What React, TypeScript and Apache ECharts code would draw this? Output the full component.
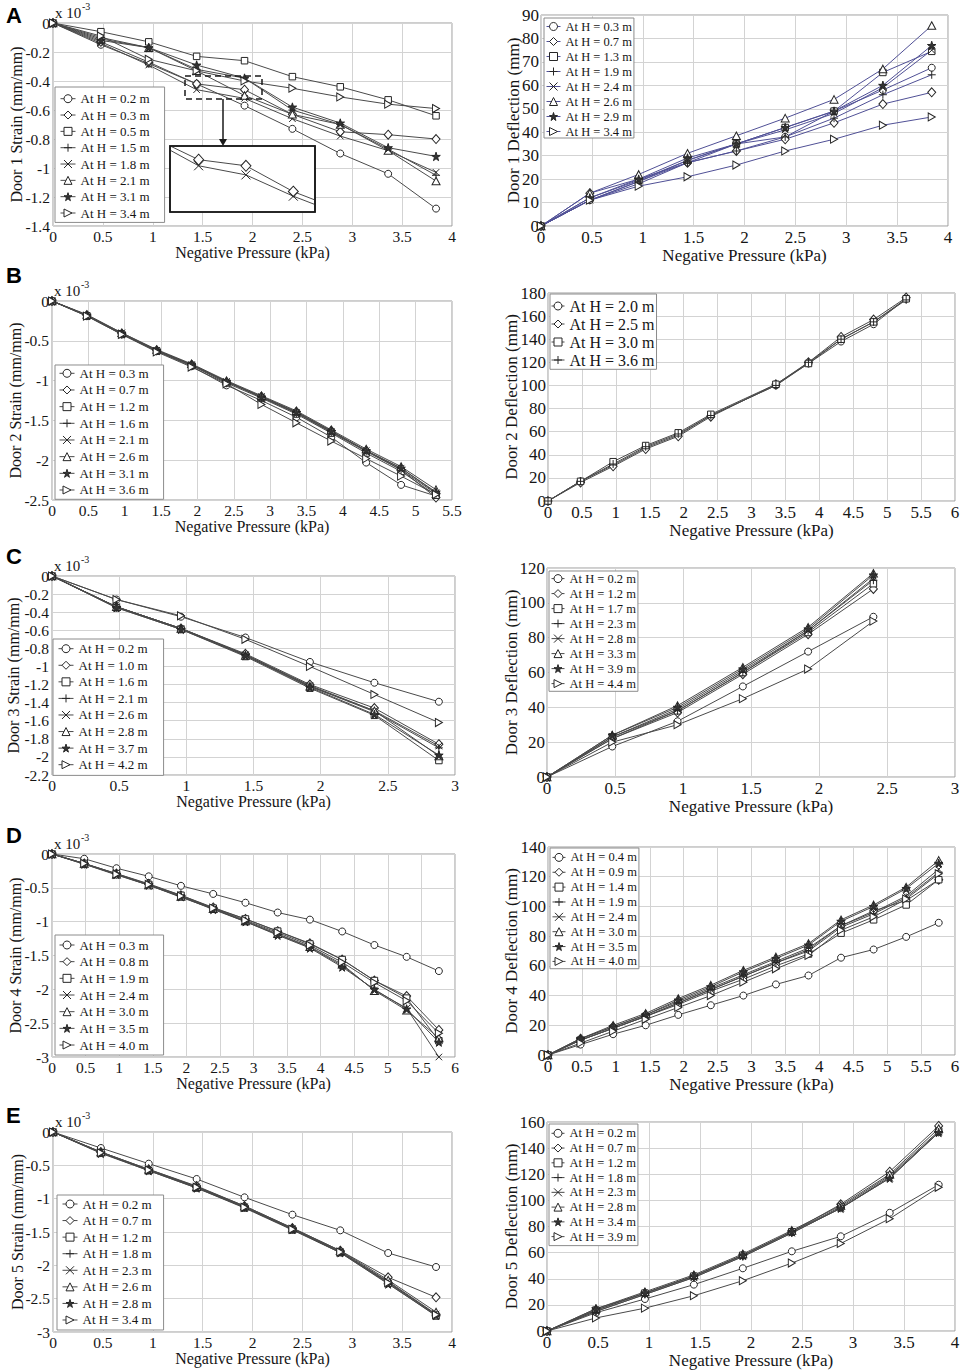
import React, { useEffect, useRef } from "react";
import * as echarts from "echarts";

const SERIF = "'Liberation Serif', 'Times New Roman', Times, serif";
const SANS = "'Liberation Sans', Arial, Helvetica, sans-serif";
const TXT = "#151515";
const GRIDC = "#d3d3d3";
const FRAME = "#9c9c9c";
const LINE = "#4a4a4a";
const LINE_BLUE = "#505096";
const MARK = "#262626";

// ---------- pressure (x) values ----------
const pressureTo384 = [0, 0.48, 0.96, 1.44, 1.92, 2.4, 2.88, 3.36, 3.84];
const pressureTo528 = [0, 0.48, 0.96, 1.44, 1.92, 2.4, 2.88, 3.36, 3.84, 4.32, 4.8, 5.28];
const pressureTo528Gap = [0, 0.48, 0.96, 1.44, 1.92, 2.4, 3.36, 3.84, 4.32, 4.8, 5.28];
const pressureTo288 = [0, 0.48, 0.96, 1.44, 1.92, 2.4, 2.88];
const pressureTo240 = [0, 0.48, 0.96, 1.44, 1.92, 2.4];
const pressureTo576 = [0, 0.48, 0.96, 1.44, 1.92, 2.4, 2.88, 3.36, 3.84, 4.32, 4.8, 5.28, 5.76];

// ---------- marker sets ----------
const markers8 = ["circle", "diamond", "square", "plus", "cross", "triangle", "star", "rtri"];
const markers7 = ["circle", "diamond", "square", "cross", "triangle", "star", "rtri"];
const markers4 = ["circle", "diamond", "square", "plus"];

// ---------- Door 1 ----------
const door1StrainHeights = ["0.2", "0.3", "0.5", "1.5", "1.8", "2.1", "3.1", "3.4"];
const door1Strain = [
  [0, -0.15, -0.28, -0.42, -0.57, -0.73, -0.9, -1.04, -1.28],
  [0, -0.13, -0.27, -0.42, -0.46, -0.63, -0.75, -0.77, -0.8],
  [0, -0.06, -0.13, -0.23, -0.26, -0.37, -0.44, -0.53, -0.64],
  [0, -0.1, -0.17, -0.32, -0.38, -0.6, -0.7, -0.87, -1.05],
  [0, -0.14, -0.29, -0.46, -0.52, -0.66, -0.78, -0.88, -1.03],
  [0, -0.11, -0.17, -0.33, -0.5, -0.63, -0.7, -0.88, -1.09],
  [0, -0.12, -0.17, -0.29, -0.38, -0.58, -0.69, -0.86, -0.92],
  [0, -0.09, -0.25, -0.33, -0.4, -0.45, -0.51, -0.56, -0.59],
];
const door1DeflHeights = ["0.3", "0.7", "1.3", "1.9", "2.4", "2.6", "2.9", "3.4"];
const door1Defl = [
  [0, 11, 19, 27, 35, 38, 49, 58, 67.5],
  [0, 14, 20, 27, 32, 37, 44, 52, 57],
  [0, 12, 19.5, 28, 35, 42, 49, 65.5, 74.5],
  [0, 11, 18, 27, 32, 38, 46, 56, 64.5],
  [0, 11, 19, 28, 35, 41, 48, 59, 75],
  [0, 14, 22, 31, 38.5, 46, 54, 67, 85.5],
  [0, 12, 20, 29, 35, 42, 49, 60, 77],
  [0, 11, 17, 21, 26, 32, 37, 43, 46.5],
];

// ---------- Door 2 ----------
const door2StrainHeights = ["0.3", "0.7", "1.2", "1.6", "2.1", "2.6", "3.1", "3.6"];
const door2Strain = [
  [0, -0.18, -0.41, -0.63, -0.82, -1.06, -1.25, -1.46, -1.71, -2.03, -2.31, -2.45],
  [0, -0.18, -0.41, -0.62, -0.8, -1.02, -1.2, -1.39, -1.63, -1.88, -2.12, -2.47],
  [0, -0.19, -0.42, -0.63, -0.81, -1.03, -1.22, -1.42, -1.66, -1.91, -2.14, -2.44],
  [0, -0.18, -0.41, -0.62, -0.8, -1.01, -1.21, -1.41, -1.65, -1.89, -2.12, -2.42],
  [0, -0.18, -0.4, -0.62, -0.8, -1.01, -1.2, -1.4, -1.64, -1.88, -2.1, -2.41],
  [0, -0.17, -0.4, -0.61, -0.79, -1.0, -1.19, -1.38, -1.62, -1.86, -2.08, -2.37],
  [0, -0.18, -0.41, -0.62, -0.8, -1.01, -1.21, -1.4, -1.64, -1.88, -2.1, -2.4],
  [0, -0.19, -0.42, -0.64, -0.83, -1.04, -1.3, -1.53, -1.76, -1.98, -2.2, -2.43],
];
const door2DeflHeights = ["2.0", "2.5", "3.0", "3.6"];
const door2Defl = [
  [0, 17, 31, 46, 57, 74, 100, 119, 138, 153, 175],
  [0, 16, 30, 45, 56, 73, 101, 120, 142, 157, 176],
  [0, 17, 34, 48, 59, 75, 101, 119, 140, 155, 175],
  [0, 17, 32, 47, 58, 74, 100, 120, 140, 155, 174],
];

// ---------- Door 3 ----------
const door3StrainHeights = ["0.2", "1.0", "1.6", "2.1", "2.6", "2.8", "3.7", "4.2"];
const door3Strain = [
  [0, -0.26, -0.45, -0.68, -0.95, -1.18, -1.39],
  [0, -0.34, -0.58, -0.86, -1.2, -1.46, -1.86],
  [0, -0.35, -0.59, -0.89, -1.24, -1.54, -2.04],
  [0, -0.34, -0.58, -0.87, -1.22, -1.5, -1.9],
  [0, -0.34, -0.58, -0.87, -1.21, -1.49, -1.88],
  [0, -0.34, -0.58, -0.88, -1.22, -1.49, -1.99],
  [0, -0.35, -0.59, -0.88, -1.23, -1.53, -1.98],
  [0, -0.26, -0.44, -0.7, -1.0, -1.31, -1.62],
];
const door3DeflHeights = ["0.2", "1.2", "1.7", "2.3", "2.8", "3.3", "3.9", "4.4"];
const door3Defl = [
  [0, 17.5, 32, 52, 72, 92],
  [0, 22, 37, 59, 82, 108],
  [0, 23, 38, 60, 83, 111],
  [0, 22, 38, 60, 84, 113],
  [0, 23, 39, 61, 84, 114],
  [0, 24, 41, 63, 86, 117],
  [0, 24, 40, 62, 85, 116],
  [0, 20, 30, 45, 62, 89.5],
];

// ---------- Door 4 ----------
const door4StrainHeights = ["0.3", "0.8", "1.9", "2.4", "3.0", "3.5", "4.0"];
const door4Strain = [
  [0, -0.07, -0.21, -0.33, -0.47, -0.59, -0.72, -0.865, -0.97, -1.145, -1.345, -1.52, -1.73],
  [0, -0.14, -0.29, -0.44, -0.61, -0.79, -0.96, -1.14, -1.32, -1.56, -1.87, -2.1, -2.6],
  [0, -0.14, -0.29, -0.45, -0.61, -0.8, -0.96, -1.14, -1.33, -1.56, -1.87, -2.13, -2.76],
  [0, -0.15, -0.31, -0.46, -0.64, -0.81, -1.0, -1.19, -1.38, -1.65, -2.01, -2.28, -3.0],
  [0, -0.14, -0.3, -0.46, -0.63, -0.81, -0.99, -1.18, -1.37, -1.63, -2.02, -2.31, -2.72],
  [0, -0.15, -0.3, -0.46, -0.63, -0.82, -1.0, -1.2, -1.39, -1.67, -2.0, -2.29, -2.78],
  [0, -0.14, -0.3, -0.45, -0.62, -0.8, -0.98, -1.16, -1.35, -1.6, -1.9, -2.17, -2.65],
];
const door4DeflHeights = ["0.4", "0.9", "1.4", "1.9", "2.4", "3.0", "3.5", "4.0"];
const door4Defl = [
  [0, 7, 14, 20, 27, 33.5, 40, 47.5, 53.5, 65.5, 71, 79.5, 89],
  [0, 11, 19, 27, 36, 45, 54, 63, 72, 87, 97, 104, 118],
  [0, 10, 18, 26, 34, 43, 51, 60, 68, 82, 91, 101, 118],
  [0, 10, 18, 26, 35, 44, 53, 62, 70, 86, 95, 106, 123],
  [0, 10, 18, 26, 35, 44, 53, 62, 71, 87, 96, 107, 125],
  [0, 11, 20, 28, 38, 47, 57, 66, 75, 91, 101, 113, 131],
  [0, 11, 19, 27, 37, 46, 56, 65, 74, 90, 100, 112, 129],
  [0, 8, 16, 24, 32, 40, 49, 58, 67, 84, 93, 105, 122],
];

// ---------- Door 5 ----------
const door5StrainHeights = ["0.2", "0.7", "1.2", "1.8", "2.3", "2.6", "2.8", "3.4"];
const door5Strain = [
  [0, -0.24, -0.475, -0.705, -0.98, -1.24, -1.475, -1.815, -2.025],
  [0, -0.3, -0.56, -0.81, -1.11, -1.44, -1.78, -2.18, -2.48],
  [0, -0.31, -0.58, -0.84, -1.14, -1.47, -1.81, -2.27, -2.76],
  [0, -0.31, -0.57, -0.83, -1.13, -1.46, -1.8, -2.25, -2.74],
  [0, -0.3, -0.57, -0.82, -1.12, -1.45, -1.79, -2.24, -2.73],
  [0, -0.3, -0.56, -0.82, -1.11, -1.44, -1.78, -2.22, -2.7],
  [0, -0.32, -0.58, -0.84, -1.13, -1.46, -1.81, -2.28, -2.75],
  [0, -0.31, -0.57, -0.83, -1.13, -1.46, -1.8, -2.26, -2.74],
];
const door5DeflHeights = ["0.2", "0.7", "1.2", "1.8", "2.3", "2.8", "3.4", "3.9"];
const door5Defl = [
  [0, 14, 24.5, 35.5, 48, 61, 72.5, 90.5, 112],
  [0, 16, 29, 42, 58, 76, 97, 122, 157],
  [0, 16, 29, 42, 58, 76, 95, 119, 153],
  [0, 15, 28, 41, 57, 75, 94, 118, 152],
  [0, 15, 28, 41, 57, 75, 94, 117, 152],
  [0, 17, 30, 43, 59, 77, 96, 120, 155],
  [0, 17, 29, 42, 58, 76, 94, 117, 152],
  [0, 10, 17.5, 27, 38.5, 52, 67, 86, 110],
];

// ---------- symbols ----------
const SYMBOLS: Record<string, { symbol: string; size: number | number[]; fill: string }> = {
  circle: { symbol: "circle", size: 7, fill: "#fff" },
  diamond: { symbol: "diamond", size: [8, 9], fill: "#fff" },
  square: { symbol: "rect", size: 6.5, fill: "#fff" },
  plus: { symbol: "path://M50,0L50,100M0,50L100,50", size: 8, fill: "#fff" },
  cross: { symbol: "path://M0,0L100,100M100,0L0,100", size: 6.5, fill: "#fff" },
  triangle: { symbol: "triangle", size: [8, 7.5], fill: "#fff" },
  star: {
    symbol: "path://M50,0L61,35L98,35L68,57L79,91L50,70L21,91L32,57L2,35L39,35Z",
    size: 8.5,
    fill: "#333",
  },
  rtri: { symbol: "path://M0,0L100,50L0,100Z", size: [7, 8], fill: "#fff" },
};

type LegendCfg = { left: number; top: number; pad: number[]; spacing: number; font: number; lh: number; iw: number };
type Panel = {
  key: string;
  letter?: string;
  x: number[];
  values: number[][];
  heights: string[];
  markers: string[];
  grid: number[];
  xMax: number;
  yMin: number;
  yMax: number;
  yStep: number;
  yName: string;
  yNameGap: number;
  right: boolean;
  lineColor: string;
  legend: LegendCfg;
};

const PANELS: Panel[] = [
  {
    key: "A1", letter: "A", x: pressureTo384, values: door1Strain, heights: door1StrainHeights, markers: markers8,
    grid: [53, 23, 399, 203], xMax: 4, yMin: -1.4, yMax: 0, yStep: 0.2,
    yName: "Door 1 Strain (mm/mm)", yNameGap: 28.5, right: false, lineColor: LINE,
    legend: { left: 55, top: 87, pad: [4.7, 15, 2.4, 5], spacing: 16.33, font: 13, lh: 14, iw: 15 },
  },
  {
    key: "A2", x: pressureTo384, values: door1Defl, heights: door1DeflHeights, markers: markers8,
    grid: [541, 15, 407, 211], xMax: 4, yMin: 0, yMax: 90, yStep: 10,
    yName: "Door 1 Deflection (mm)", yNameGap: 19.5, right: true, lineColor: LINE_BLUE,
    legend: { left: 544, top: 18, pad: [2, 2, 0, 2], spacing: 15, font: 12.5, lh: 13, iw: 14 },
  },
  {
    key: "B1", letter: "B", x: pressureTo528, values: door2Strain, heights: door2StrainHeights, markers: markers8,
    grid: [52, 301, 400, 199], xMax: 5.5, yMin: -2.5, yMax: 0, yStep: 0.5,
    yName: "Door 2 Strain (mm/mm)", yNameGap: 29, right: false, lineColor: LINE,
    legend: { left: 55, top: 365, pad: [1.3, 15, 2.3, 4], spacing: 16.67, font: 13, lh: 14, iw: 15 },
  },
  {
    key: "B2", x: pressureTo528Gap, values: door2Defl, heights: door2DeflHeights, markers: markers4,
    grid: [548, 293, 407, 208], xMax: 6, yMin: 0, yMax: 180, yStep: 20,
    yName: "Door 2 Deflection (mm)", yNameGap: 28.5, right: true, lineColor: LINE,
    legend: { left: 550, top: 294, pad: [3.5, 2, 0.8, 1], spacing: 18, font: 16, lh: 17, iw: 13 },
  },
  {
    key: "C1", letter: "C", x: pressureTo288, values: door3Strain, heights: door3StrainHeights, markers: markers8,
    grid: [52, 576, 403, 199], xMax: 3, yMin: -2.2, yMax: 0, yStep: 0.2,
    yName: "Door 3 Strain (mm/mm)", yNameGap: 30.5, right: false, lineColor: LINE,
    legend: { left: 53, top: 639, pad: [2.7, 16, 3.7, 5], spacing: 16.57, font: 13, lh: 14, iw: 15 },
  },
  {
    key: "C2", x: pressureTo240, values: door3Defl, heights: door3DeflHeights, markers: markers8,
    grid: [547, 568, 408, 209], xMax: 3, yMin: 0, yMax: 120, yStep: 20,
    yName: "Door 3 Deflection (mm)", yNameGap: 27.5, right: true, lineColor: LINE,
    legend: { left: 549, top: 571, pad: [1.1, 2, 1.2, 2], spacing: 15, font: 12.5, lh: 13, iw: 13 },
  },
  {
    key: "D1", letter: "D", x: pressureTo576, values: door4Strain, heights: door4StrainHeights, markers: markers7,
    grid: [52, 854, 403, 203], xMax: 6, yMin: -3, yMax: 0, yStep: 0.5,
    yName: "Door 4 Strain (mm/mm)", yNameGap: 29, right: false, lineColor: LINE,
    legend: { left: 55, top: 935, pad: [3, 15, 3, 4], spacing: 16.67, font: 13, lh: 14, iw: 15 },
  },
  {
    key: "D2", x: pressureTo576, values: door4Defl, heights: door4DeflHeights, markers: markers8,
    grid: [548, 847, 407, 208], xMax: 6, yMin: 0, yMax: 140, yStep: 20,
    yName: "Door 4 Deflection (mm)", yNameGap: 28.5, right: true, lineColor: LINE,
    legend: { left: 550, top: 848, pad: [2.9, 2, 0.8, 2], spacing: 14.86, font: 12.5, lh: 13, iw: 13 },
  },
  {
    key: "E1", letter: "E", x: pressureTo384, values: door5Strain, heights: door5StrainHeights, markers: markers8,
    grid: [53, 1132, 399, 200], xMax: 4, yMin: -3, yMax: 0, yStep: 0.5,
    yName: "Door 5 Strain (mm/mm)", yNameGap: 27.5, right: false, lineColor: LINE,
    legend: { left: 57, top: 1195, pad: [2, 12, 3, 5], spacing: 16.57, font: 13, lh: 14, iw: 15 },
  },
  {
    key: "E2", x: pressureTo384, values: door5Defl, heights: door5DeflHeights, markers: markers8,
    grid: [547, 1122, 408, 209], xMax: 4, yMin: 0, yMax: 160, yStep: 20,
    yName: "Door 5 Deflection (mm)", yNameGap: 27.5, right: true, lineColor: LINE,
    legend: { left: 549, top: 1124, pad: [2.8, 2, 2.5, 2], spacing: 14.76, font: 12.5, lh: 13, iw: 13 },
  },
];

const LETTER_TOPS: Record<string, number> = { A: 4, B: 264, C: 545, D: 824, E: 1104 };

// inset of panel A (zoomed view of H = 0.3 m and H = 1.8 m)
const INSET = { left: 170, top: 146, width: 145, height: 66, xMin: 1.15, xMax: 2.62, yMin: -0.764, yMax: -0.33 };

function buildOption() {
  const grid: any[] = [];
  const xAxis: any[] = [];
  const yAxis: any[] = [];
  const series: any[] = [];
  const legend: any[] = [];
  const elements: any[] = [];

  PANELS.forEach((p, i) => {
    const R = p.right;
    grid.push({
      left: p.grid[0], top: p.grid[1], width: p.grid[2], height: p.grid[3],
      show: true, borderColor: FRAME, borderWidth: 1, backgroundColor: "transparent",
    });
    xAxis.push({
      type: "value", gridIndex: i, min: 0, max: p.xMax, interval: 0.5,
      name: "Negative Pressure (kPa)", nameLocation: "middle", nameGap: R ? 22.5 : 19.5,
      nameMoveOverlap: false,
      nameTextStyle: { fontFamily: SERIF, fontSize: R ? 17 : 16, lineHeight: 13, color: TXT },
      axisLine: { show: false }, axisTick: { show: false },
      axisLabel: { fontFamily: SERIF, fontSize: R ? 17 : 15.5, lineHeight: 12, color: TXT, margin: R ? 5.5 : 4 },
      splitLine: { show: true, lineStyle: { color: GRIDC, width: 1 } },
    });
    yAxis.push({
      type: "value", gridIndex: i, min: p.yMin, max: p.yMax, interval: p.yStep,
      name: p.yName, nameLocation: "middle", nameGap: p.yNameGap,
      nameMoveOverlap: false,
      nameTextStyle: { fontFamily: SERIF, fontSize: R ? 17 : 16, color: TXT },
      axisLine: { show: false }, axisTick: { show: false },
      axisLabel: { fontFamily: SERIF, fontSize: R ? 17 : 15.5, color: TXT, margin: R ? 2 : 3 },
      splitLine: { show: true, lineStyle: { color: GRIDC, width: 1 } },
    });
    const names: string[] = [];
    p.values.forEach((vals, k) => {
      const m = SYMBOLS[p.markers[k]];
      const name = `${p.key}|At H = ${p.heights[k]} m`;
      names.push(name);
      series.push({
        type: "line", name, xAxisIndex: i, yAxisIndex: i,
        data: p.x.map((xv, j) => [xv, vals[j]]),
        symbol: m.symbol, symbolSize: m.size, showSymbol: true, clip: false,
        lineStyle: { color: p.lineColor, width: 1 },
        itemStyle: { color: m.fill, borderColor: MARK, borderWidth: 1 },
        emphasis: { disabled: true },
        z: 2,
      });
    });
    const L = p.legend;
    legend.push({
      data: names, orient: "vertical", left: L.left, top: L.top, padding: L.pad,
      itemGap: L.spacing - L.lh, itemWidth: L.iw, itemHeight: 10,
      backgroundColor: "#fff", borderColor: "#8c8c8c", borderWidth: 1,
      selectedMode: false,
      formatter: (n: string) => n.split("|")[1],
      textStyle: { fontFamily: SERIF, fontSize: L.font, lineHeight: L.lh, color: TXT },
      itemStyle: { borderWidth: 1 },
      lineStyle: { width: 1 },
      z: 6,
    });
    if (!R) {
      elements.push({
        type: "text", x: p.grid[0] + 2, y: p.grid[1] - 18, silent: true, z: 8,
        style: { text: "x 10", fontFamily: SERIF, fontSize: 15, fill: TXT, verticalAlign: "top" },
      });
      elements.push({
        type: "text", x: p.grid[0] + 29, y: p.grid[1] - 22, silent: true, z: 8,
        style: { text: "-3", fontFamily: SERIF, fontSize: 10, fill: TXT, verticalAlign: "top" },
      });
    }
    if (p.letter) {
      elements.push({
        type: "text", x: 6, y: LETTER_TOPS[p.letter], silent: true, z: 8,
        style: { text: p.letter, fontFamily: SANS, fontSize: 22, fontWeight: "bold", fill: "#000", verticalAlign: "top" },
      });
    }
  });

  // inset grid
  const gi = PANELS.length;
  grid.push({ left: INSET.left, top: INSET.top, width: INSET.width, height: INSET.height, show: false });
  xAxis.push({ type: "value", gridIndex: gi, min: INSET.xMin, max: INSET.xMax, show: false, splitLine: { show: false } });
  yAxis.push({ type: "value", gridIndex: gi, min: INSET.yMin, max: INSET.yMax, show: false, splitLine: { show: false } });
  [1, 4].forEach((k) => {
    const m = SYMBOLS[markers8[k]];
    series.push({
      type: "line", name: `inset-${k}`, xAxisIndex: gi, yAxisIndex: gi,
      data: pressureTo384.map((xv, j) => [xv, door1Strain[k][j]]),
      symbol: m.symbol, symbolSize: k === 1 ? [10, 11] : 9, clip: true,
      lineStyle: { color: LINE, width: 1 },
      itemStyle: { color: m.fill, borderColor: MARK, borderWidth: 1 },
      emphasis: { disabled: true },
      z: 12,
    });
  });
  elements.push({
    type: "rect", silent: true, z: 10,
    shape: { x: INSET.left, y: INSET.top, width: INSET.width, height: INSET.height },
    style: { fill: "#fff", stroke: "#1a1a1a", lineWidth: 1.6 },
  });
  elements.push({
    type: "rect", silent: true, z: 13,
    shape: { x: INSET.left, y: INSET.top, width: INSET.width, height: INSET.height },
    style: { fill: "none", stroke: "#1a1a1a", lineWidth: 1.6 },
  });
  elements.push({
    type: "rect", silent: true, z: 9,
    shape: { x: 185, y: 76, width: 77, height: 23 },
    style: { fill: "none", stroke: "#1a1a1a", lineWidth: 1.5, lineDash: [6, 4] },
  });
  elements.push({
    type: "line", silent: true, z: 9,
    shape: { x1: 223, y1: 99, x2: 223, y2: 141 },
    style: { stroke: "#1a1a1a", lineWidth: 1.5 },
  });
  elements.push({
    type: "polygon", silent: true, z: 9,
    shape: { points: [[219, 139], [227, 139], [223, 146]] },
    style: { fill: "#1a1a1a" },
  });

  return {
    animation: false,
    backgroundColor: "#fff",
    grid,
    xAxis,
    yAxis,
    series,
    legend,
    graphic: { elements },
  };
}

export default function App() {
  const ref = useRef<HTMLDivElement>(null);
  useEffect(() => {
    if (!ref.current) return;
    const chart = echarts.init(ref.current, undefined, { renderer: "svg" });
    chart.setOption(buildOption() as any);
    return () => chart.dispose();
  }, []);
  return (
    <div
      ref={ref}
      style={{ position: "absolute", left: 0, top: 0, width: 965, height: 1371, background: "#fff" }}
    />
  );
}
